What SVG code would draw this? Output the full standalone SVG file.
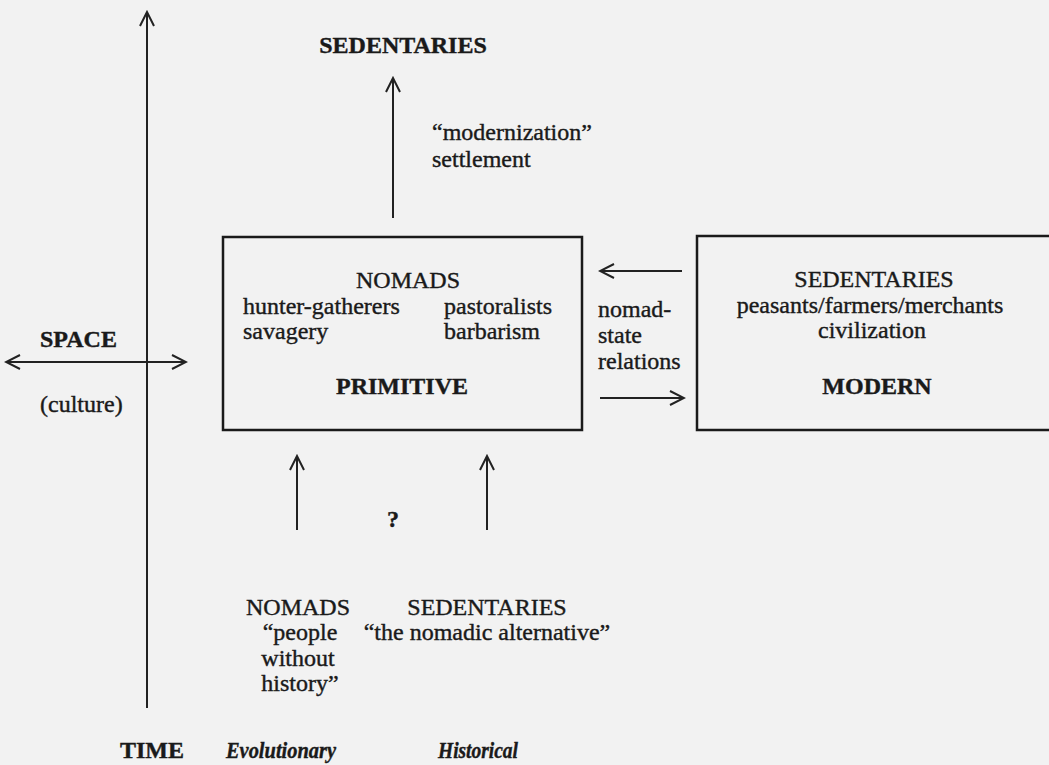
<svg xmlns="http://www.w3.org/2000/svg" width="1049" height="765" viewBox="0 0 1049 765">
<defs>
<marker id="ah" viewBox="0 0 20 20" refX="18" refY="10" markerWidth="20" markerHeight="20" markerUnits="userSpaceOnUse" orient="auto-start-reverse">
<path d="M4,3 L18,10 L4,17" fill="none" stroke="#222" stroke-width="2"/>
</marker>
<style>
text{font-family:"Liberation Serif","Times New Roman",serif;font-size:24px;fill:#1a1a1a;stroke:#1a1a1a;stroke-width:0.4}
.b{font-weight:bold}
.i{font-style:italic;font-weight:bold;font-size:23px}
.m{text-anchor:middle}
.box{fill:none;stroke:#1a1a1a;stroke-width:2.5}
.ln{fill:none;stroke:#222;stroke-width:2}
</style>
</defs>
<rect width="1049" height="765" fill="#f2f2f2"/>
<g id="connectors">
<line class="ln" x1="147" y1="708" x2="147" y2="12" marker-end="url(#ah)"/>
<line class="ln" x1="393" y1="218" x2="393" y2="78" marker-end="url(#ah)"/>
<line class="ln" x1="6" y1="362" x2="186" y2="362" marker-start="url(#ah)" marker-end="url(#ah)"/>
<line class="ln" x1="682" y1="271" x2="600" y2="271" marker-end="url(#ah)"/>
<line class="ln" x1="600" y1="398" x2="684" y2="398" marker-end="url(#ah)"/>
<line class="ln" x1="297" y1="530" x2="297" y2="456" marker-end="url(#ah)"/>
<line class="ln" x1="487" y1="530" x2="487" y2="456" marker-end="url(#ah)"/>
</g>
<g id="sedentaries-top">
<text class="b m" x="403" y="53">SEDENTARIES</text>
</g>
<g id="modernization-label">
<text x="432" y="140">“modernization”</text>
<text x="432" y="167">settlement</text>
</g>
<g id="primitive-box">
<rect class="box" x="223" y="237" width="359" height="193"/>
<text class="m" x="408" y="288">NOMADS</text>
<text x="243" y="314">hunter-gatherers</text>
<text x="444" y="314">pastoralists</text>
<text x="243" y="339">savagery</text>
<text x="444" y="339">barbarism</text>
<text class="b m" x="402" y="394">PRIMITIVE</text>
</g>
<g id="space-label">
<text class="b" x="40" y="347">SPACE</text>
<text x="40" y="412">(culture)</text>
</g>
<g id="relations-label">
<text x="598" y="317">nomad-</text>
<text x="598" y="343">state</text>
<text x="598" y="369">relations</text>
</g>
<g id="modern-box">
<rect class="box" x="697" y="236" width="360" height="194"/>
<text class="m" x="874" y="287">SEDENTARIES</text>
<text class="m" x="870" y="313">peasants/farmers/merchants</text>
<text class="m" x="872" y="338">civilization</text>
<text class="b m" x="877" y="394">MODERN</text>
</g>
<g id="question">
<text class="b m" x="393" y="527">?</text>
</g>
<g id="nomads-bottom">
<text class="m" x="298" y="615">NOMADS</text>
<text class="m" x="300" y="640">“people</text>
<text class="m" x="298" y="666">without</text>
<text class="m" x="300" y="691">history”</text>
</g>
<g id="sedentaries-bottom">
<text class="m" x="487" y="615">SEDENTARIES</text>
<text class="m" x="487" y="640">“the nomadic alternative”</text>
</g>
<g id="axis-labels">
<text class="b" x="120" y="758">TIME</text>
<text class="i" x="226" y="758" textLength="110" lengthAdjust="spacingAndGlyphs">Evolutionary</text>
<text class="i" x="438" y="758" textLength="80" lengthAdjust="spacingAndGlyphs">Historical</text>
</g>
</svg>
